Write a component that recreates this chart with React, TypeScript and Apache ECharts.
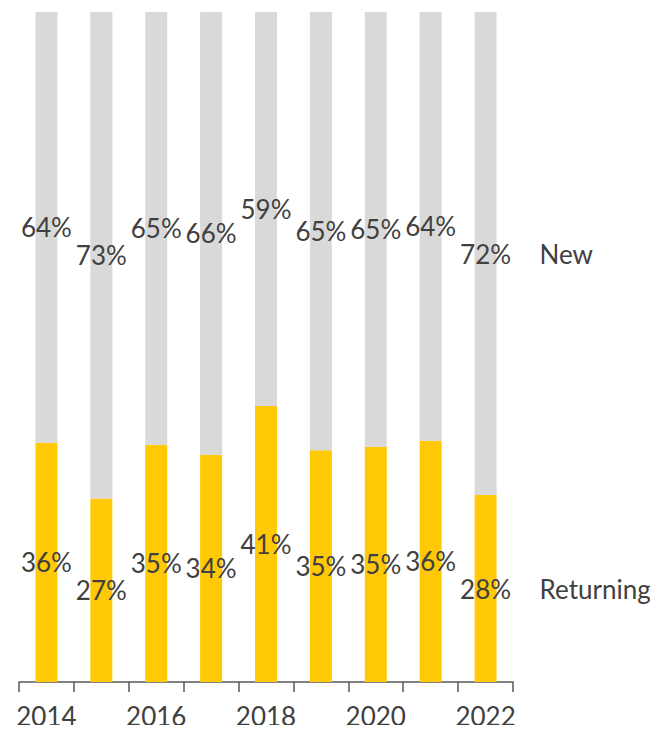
import React, { useEffect, useRef } from "react";
import * as echarts from "echarts";

const years = ["2014", "2015", "2016", "2017", "2018", "2019", "2020", "2021", "2022"];
const returning = [35.7, 27.4, 35.4, 33.9, 41.2, 34.6, 35.1, 36.0, 27.9];
const newVisitors = [64.3, 72.6, 64.6, 66.1, 58.8, 65.4, 64.9, 64.0, 72.1];
const seriesNames = ["Returning", "New"];

const FONT = "Lato, 'Open Sans', sans-serif";
const TEXT = "#404040";

export default function App() {
  const ref = useRef<HTMLDivElement>(null);
  useEffect(() => {
    if (!ref.current) return;
    const chart = echarts.init(ref.current, null, { renderer: "svg" });
    const labelCfg = {
      show: true,
      position: "inside",
      color: TEXT,
      fontSize: 26,
      fontFamily: FONT,
      formatter: (p: any) => Math.round(p.value) + "%",
    };
    chart.setOption({
      animation: false,
      grid: { left: 19, right: 145, top: 12, bottom: 51, containLabel: false },
      xAxis: {
        type: "category",
        data: years,
        axisLine: { lineStyle: { color: "#595959", width: 1.5 } },
        axisTick: { show: true, interval: 0, length: 10, lineStyle: { color: "#595959", width: 1.5 } },
        axisLabel: { interval: 1, color: TEXT, fontSize: 26, fontFamily: FONT, margin: 21 },
      },
      yAxis: { type: "value", min: 0, max: 100, show: false, splitLine: { show: false } },
      series: [
        {
          name: seriesNames[0],
          type: "bar",
          stack: "total",
          data: returning,
          barWidth: 22,
          itemStyle: { color: "#ffc905" },
          label: labelCfg,
        },
        {
          name: seriesNames[1],
          type: "bar",
          stack: "total",
          data: newVisitors,
          barWidth: 22,
          itemStyle: { color: "#d9d9d9" },
          label: labelCfg,
        },
      ],
    });
    const last = years.length - 1;
    const rMid = returning[last] / 2;
    const nMid = returning[last] + newVisitors[last] / 2;
    const pR = chart.convertToPixel({ gridIndex: 0 }, [last, rMid]) as number[];
    const pN = chart.convertToPixel({ gridIndex: 0 }, [last, nMid]) as number[];
    const x0 = chart.convertToPixel({ gridIndex: 0 }, [last, 0]) as number[];
    chart.setOption({
      graphic: [
        {
          type: "text",
          x: x0[0] + 54,
          y: pN[1],
          style: { text: seriesNames[1], fill: TEXT, fontSize: 26, fontFamily: FONT, verticalAlign: "middle", align: "left" },
        },
        {
          type: "text",
          x: x0[0] + 54,
          y: pR[1],
          style: { text: seriesNames[0], fill: TEXT, fontSize: 26, fontFamily: FONT, verticalAlign: "middle", align: "left" },
        },
      ],
    });
    return () => chart.dispose();
  }, []);
  return <div ref={ref} style={{ width: 658, height: 733, margin: -8 }} />;
}
